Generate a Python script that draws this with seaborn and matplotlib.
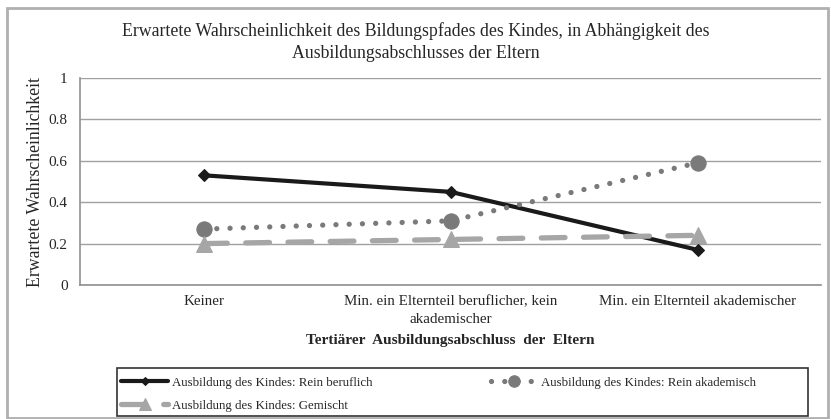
import matplotlib
matplotlib.use("Agg")
import matplotlib.pyplot as plt
import seaborn as sns
import pandas as pd
from matplotlib.patches import Rectangle

categories = ["Keiner",
              "Min. ein Elternteil beruflicher, kein\nakademischer",
              "Min. ein Elternteil akademischer"]
rein_beruflich = [0.53, 0.45, 0.17]
rein_akademisch = [0.27, 0.31, 0.59]
gemischt = [0.20, 0.22, 0.24]
series_names = ["Ausbildung des Kindes: Rein beruflich",
                "Ausbildung des Kindes: Rein akademisch",
                "Ausbildung des Kindes: Gemischt"]
y_ticks = [0, 0.2, 0.4, 0.6, 0.8, 1]
y_ticklabels = ["0", "0.2", "0.4", "0.6", "0.8", "1"]

sns.set_style("white")
plt.rcParams['font.family'] = ['Liberation Serif', 'DejaVu Serif']

fig = plt.figure(figsize=(8.31, 4.19), dpi=100)
ax = fig.add_axes([0.0963, 0.3198, 0.8917, 0.494])

df = pd.DataFrame({"x": list(range(3)) * 3,
                   "y": rein_beruflich + rein_akademisch + gemischt,
                   "s": [series_names[0]] * 3 + [series_names[1]] * 3 + [series_names[2]] * 3})

styles = [
    dict(color="#1a1a1a", lw=3, ls="-", marker="D", ms=6, cap="butt"),
    dict(color="#7a7a7a", lw=3.8, ls=(0, (0.01, 2.5)), marker="o", ms=11, cap="round"),
    dict(color="#a6a6a6", lw=3.8, ls=(0, (4.5, 3.5)), marker="^", ms=11, cap="round"),
]
order = [1, 2, 0]
for i in order:
    st = styles[i]
    sub = df[df["s"] == series_names[i]]
    sns.lineplot(data=sub, x="x", y="y", ax=ax, color=st["color"], lw=st["lw"],
                 linestyle=st["ls"], marker=st["marker"], markersize=st["ms"],
                 markeredgecolor=st["color"], label=series_names[i],
                 zorder=3 + i, legend=False, dash_capstyle=st["cap"])

ax.set_xlim(-0.5, 2.5)
ax.set_ylim(0, 1)
ax.set_yticks(y_ticks)
ax.set_yticklabels(y_ticklabels, fontsize=11)
ax.set_xticks(range(3))
ax.set_xticklabels(categories, fontsize=10.8, linespacing=1.5)
ax.grid(axis="y", color="#a0a0a0", lw=1)
ax.set_axisbelow(True)
for sp in ["top", "right"]:
    ax.spines[sp].set_visible(False)
for sp in ["left", "bottom"]:
    ax.spines[sp].set_color("#909090")
    ax.spines[sp].set_linewidth(1.2)
ax.tick_params(axis="both", length=4, color="#909090", direction="out", pad=5)
ax.tick_params(axis="x", pad=3)
ax.set_ylabel("Erwartete Wahrscheinlichkeit", fontsize=12.8, labelpad=3)
ax.set_xlabel("Tertiärer  Ausbildungsabschluss  der  Eltern", fontsize=11,
              fontweight="bold", labelpad=6)

fig.suptitle("Erwartete Wahrscheinlichkeit des Bildungspfades des Kindes, in Abhängigkeit des\n"
             "Ausbildungsabschlusses der Eltern", fontsize=12.8, y=0.948, va="top",
             linespacing=1.38)

handles, labels = ax.get_legend_handles_labels()
hmap = dict(zip(labels, handles))
hs = [hmap[series_names[0]], hmap[series_names[2]], hmap[series_names[1]]]
ls_ = [series_names[0], series_names[2], series_names[1]]
leg = fig.legend(hs, ls_, loc="upper left", bbox_to_anchor=(0.143, 0.107),
                 ncol=2, fontsize=9.3, frameon=False, borderaxespad=0,
                 handlelength=3.6, handletextpad=0.3, markerscale=0.75,
                 labelspacing=0.85, borderpad=0.2, columnspacing=9.2)

fig.patches.append(Rectangle((117 / 831, 3 / 419), 691 / 831, 48 / 419,
                             transform=fig.transFigure, fill=False,
                             edgecolor="#333333", lw=1.2))
fig.patches.append(Rectangle((0.008, 0.003), 0.988, 0.978, transform=fig.transFigure,
                             fill=False, edgecolor="#b0b0b0", lw=2))

fig.savefig("out.png", dpi=100)
